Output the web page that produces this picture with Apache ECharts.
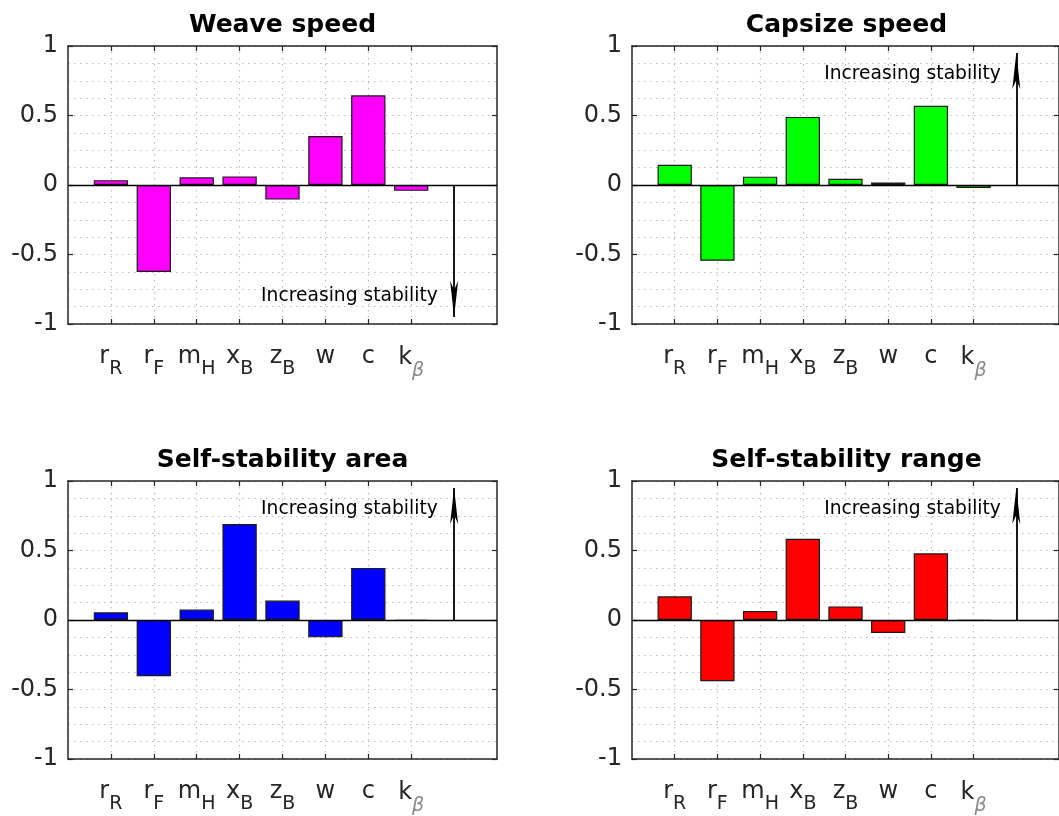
<!DOCTYPE html>
<html>
<head>
<meta charset="utf-8">
<script src="https://cdn.jsdelivr.net/npm/echarts@6/dist/echarts.min.js"></script>
<style>
  html, body { margin: 0; padding: 0; background: #fff; }
  #chart { width: 1059px; height: 816px; }
</style>
</head>
<body>
<div id="chart"></div>
<script>
// parameter names: [main, subscript]
const paramLabels = [['r', 'R'], ['r', 'F'], ['m', 'H'], ['x', 'B'], ['z', 'B'], ['w', ''], ['c', ''], ['k', 'β']]
const xTicks = [1, 2, 3, 4, 5, 6, 7, 8]

const weaveSpeed = [0.035, -0.625, 0.055, 0.062, -0.105, 0.352, 0.645, -0.042]
const capsizeSpeed = [0.145, -0.545, 0.06, 0.49, 0.045, 0.018, 0.57, -0.022]
const stabilityArea = [0.055, -0.405, 0.075, 0.69, 0.14, -0.125, 0.375, -0.006]
const stabilityRange = [0.17, -0.44, 0.064, 0.585, 0.098, -0.093, 0.48, -0.004]

const titles = ['Weave speed', 'Capsize speed', 'Self-stability area', 'Self-stability range']
const colors = ['#ff00ff', '#00ff00', '#0000ff', '#ff0000']
const arrowEnd = [-0.95, 0.95, 0.95, 0.95]
const noteY = [-0.8, 0.8, 0.8, 0.8]

const FONT = 'DejaVu Sans'
const INK = '#262626'
const GRID_W = 429

const grids = [
    { left: 68, top: 46, width: GRID_W, height: 278 },
    { left: 632, top: 46, width: GRID_W, height: 278 },
    { left: 68, top: 481, width: GRID_W, height: 279 },
    { left: 632, top: 481, width: GRID_W, height: 279 },
]
const seriesValues = [weaveSpeed, capsizeSpeed, stabilityArea, stabilityRange]

const dotted = { color: '#bdbdbd', width: 1.2, type: [1.5, 4.5] }

const xAxes = []
const yAxes = []
const series = []
const titleOpts = []

grids.forEach((g, i) => {
    titleOpts.push({
        text: titles[i],
        left: g.left + g.width / 2,
        textAlign: 'center',
        top: g.top - 33,
        padding: 0,
        textStyle: { fontFamily: FONT, fontSize: 25, fontWeight: 'bold', color: '#000' }
    })
    const xBase = {
        type: 'value', gridIndex: i, min: 0, max: 10, interval: 0.5,
        axisLine: { show: true, onZero: false, lineStyle: { color: INK, width: 1.5 } },
        axisTick: { show: true, inside: true, length: 5, customValues: xTicks, lineStyle: { color: INK, width: 1.2 } },
    }
    xAxes.push(Object.assign({}, xBase, {
        position: 'bottom',
        splitLine: { show: true, lineStyle: dotted },
        axisLabel: {
            show: true, margin: 10, customValues: xTicks,
            formatter: v => {
                const p = paramLabels[Math.round(v) - 1]
                if (!p) return ''
                const subStyle = p[1] === 'β' ? 'b' : 's'
                return '{m|' + p[0] + '}{' + subStyle + '|' + (p[1] || '\u200b') + '}'
            },
            rich: {
                m: { fontFamily: FONT, fontSize: 24, color: INK },
                s: { fontFamily: FONT, fontSize: 19, color: INK, padding: [26, 0, 0, 0] },
                b: { fontFamily: FONT, fontSize: 19, color: '#8a8a8a', fontStyle: 'italic', padding: [28, 0, 0, 0] }
            }
        }
    }))
    xAxes.push(Object.assign({}, xBase, {
        position: 'top',
        splitLine: { show: false },
        axisLabel: { show: false }
    }))
    const yBase = {
        type: 'value', gridIndex: i, min: -1, max: 1, interval: 0.5,
        axisLine: { show: true, onZero: false, lineStyle: { color: INK, width: 1.5 } },
        axisTick: { show: true, inside: true, length: 5, lineStyle: { color: INK, width: 1.2 } },
    }
    yAxes.push(Object.assign({}, yBase, {
        position: 'left',
        splitLine: { show: true, lineStyle: dotted },
        minorTick: { show: false, splitNumber: 4 },
        minorSplitLine: { show: true, lineStyle: dotted },
        axisLabel: {
            show: true, margin: 10,
            fontFamily: FONT, fontSize: 24, color: INK,
            formatter: v => String(v)
        }
    }))
    yAxes.push(Object.assign({}, yBase, {
        position: 'right',
        splitLine: { show: false },
        axisLabel: { show: false }
    }))

    series.push({
        type: 'bar',
        xAxisIndex: 2 * i,
        yAxisIndex: 2 * i,
        barWidth: 0.8 * GRID_W / 10,
        data: seriesValues[i].map((v, k) => [k + 1, v]),
        itemStyle: { color: colors[i], borderColor: '#1a1a1a', borderWidth: 1.2 },
        markLine: {
            silent: true,
            animation: false,
            symbol: 'none',
            label: { show: false },
            data: [
                { yAxis: 0, lineStyle: { color: '#000', width: 1.4, type: 'solid' } },
                [
                    { coord: [9, 0], symbol: 'none' },
                    { coord: [9, arrowEnd[i]], symbol: 'arrow', symbolSize: [6, 36] }
                ]
            ],
            lineStyle: { color: '#000', width: 1.8, type: 'solid' }
        },
        markPoint: {
            silent: true,
            animation: false,
            data: [{
                coord: [4.5, noteY[i]],
                symbol: 'circle',
                symbolSize: 0,
                label: {
                    show: true, position: 'right', distance: 0,
                    formatter: 'Increasing stability',
                    fontFamily: FONT, fontSize: 18.7, color: '#000'
                }
            }]
        }
    })
})

const chart = echarts.init(document.getElementById('chart'))
chart.setOption({
    animation: false,
    backgroundColor: '#fff',
    title: titleOpts,
    grid: grids,
    xAxis: xAxes,
    yAxis: yAxes,
    series: series
})
</script>
</body>
</html>
